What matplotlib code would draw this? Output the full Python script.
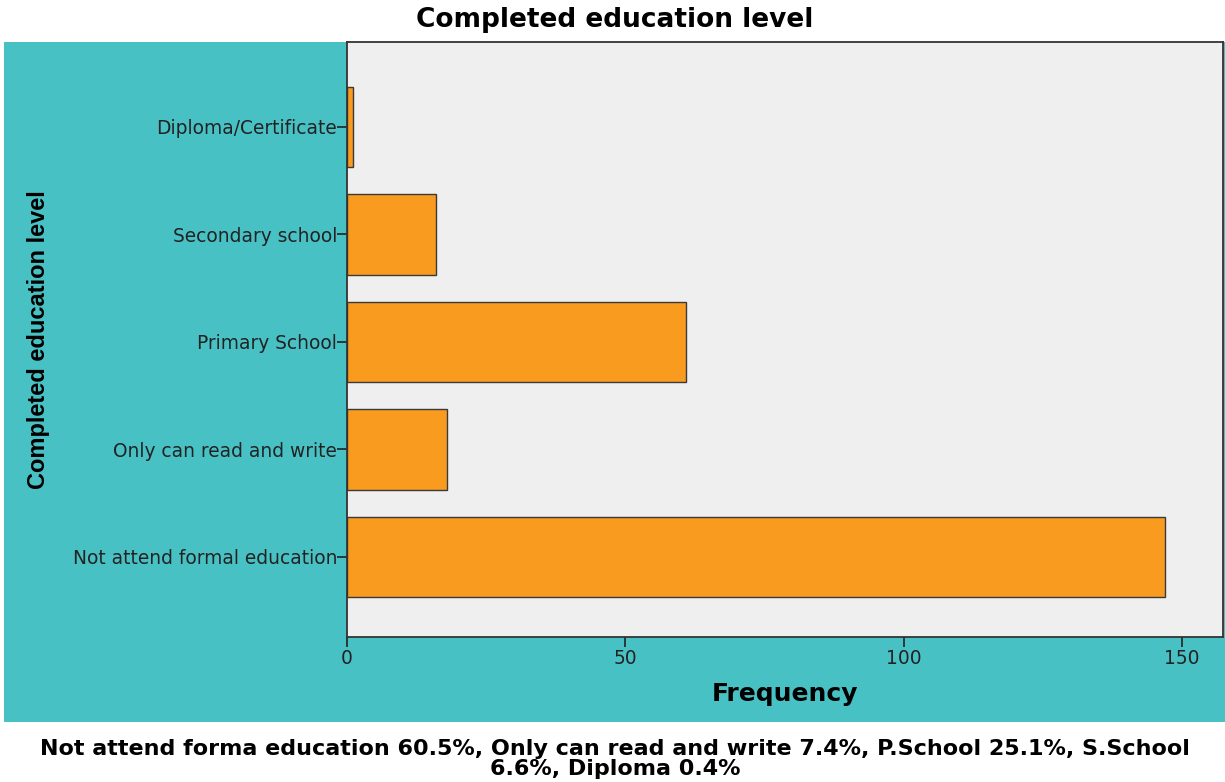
import matplotlib
matplotlib.use("Agg")
import matplotlib.pyplot as plt
from matplotlib.patches import Rectangle

# Data
categories = ["Not attend formal education", "Only can read and write",
              "Primary School", "Secondary school", "Diploma/Certificate"]
frequency = [147, 18, 61, 16, 1]
xticks = [0, 50, 100, 150]

caption = ("Not attend forma education 60.5%, Only can read and write 7.4%, P.School 25.1%, S.School\n"
           "6.6%, Diploma 0.4%")

plt.rcParams['font.family'] = ['DejaVu Sans']

W, H = 1225, 782
fig = plt.figure(figsize=(W / 100, H / 100), dpi=100)

# teal background panel
fig.patches.append(Rectangle((4 / W, 1 - 722 / H), 1 - 4 / W, (722 - 42) / H,
                             transform=fig.transFigure, facecolor="#48C1C5",
                             edgecolor="none", zorder=-5))

ax = fig.add_axes([347 / W, 1 - 637 / H, (1223 - 347) / W, (637 - 42) / H])
ax.set_zorder(2)
ax.set_facecolor("#EFEFEF")

ypos = range(len(categories))
ax.barh(ypos, frequency, height=0.75, color="#F99B1F", edgecolor="#3a3a3a", linewidth=1)

ax.set_xlim(0, 157.4)
ax.set_ylim(-0.745, 4.79)
ax.set_xticks(xticks)
ax.set_xticklabels([str(t) for t in xticks], fontsize=13.4, color="#222222")
ax.set_yticks(list(ypos))
ax.set_yticklabels(categories, fontsize=13.4, color="#222222")
ax.tick_params(axis='both', direction='out', length=7, width=1.2, color="#222222")
ax.tick_params(axis='x', pad=2)
ax.tick_params(axis='y', pad=0)

for s in ax.spines.values():
    s.set_color("#333333")
    s.set_linewidth(1.3)

ax.set_xlabel("Frequency", fontsize=18, fontweight='bold', labelpad=10)
ax.set_ylabel("Completed education level", fontsize=17, fontweight='bold',
              family='Liberation Sans')
ax.yaxis.set_label_coords(-297 / (1223 - 347), 0.5)

fig.text(615 / W, 1 - 20 / H, "Completed education level", ha='center', va='center',
         fontsize=19, fontweight='bold')
fig.text(615 / W, 1 - 759 / H, caption, ha='center', va='center',
         fontsize=16, fontweight='bold', linespacing=1.0)

fig.savefig("out.png", dpi=100)
